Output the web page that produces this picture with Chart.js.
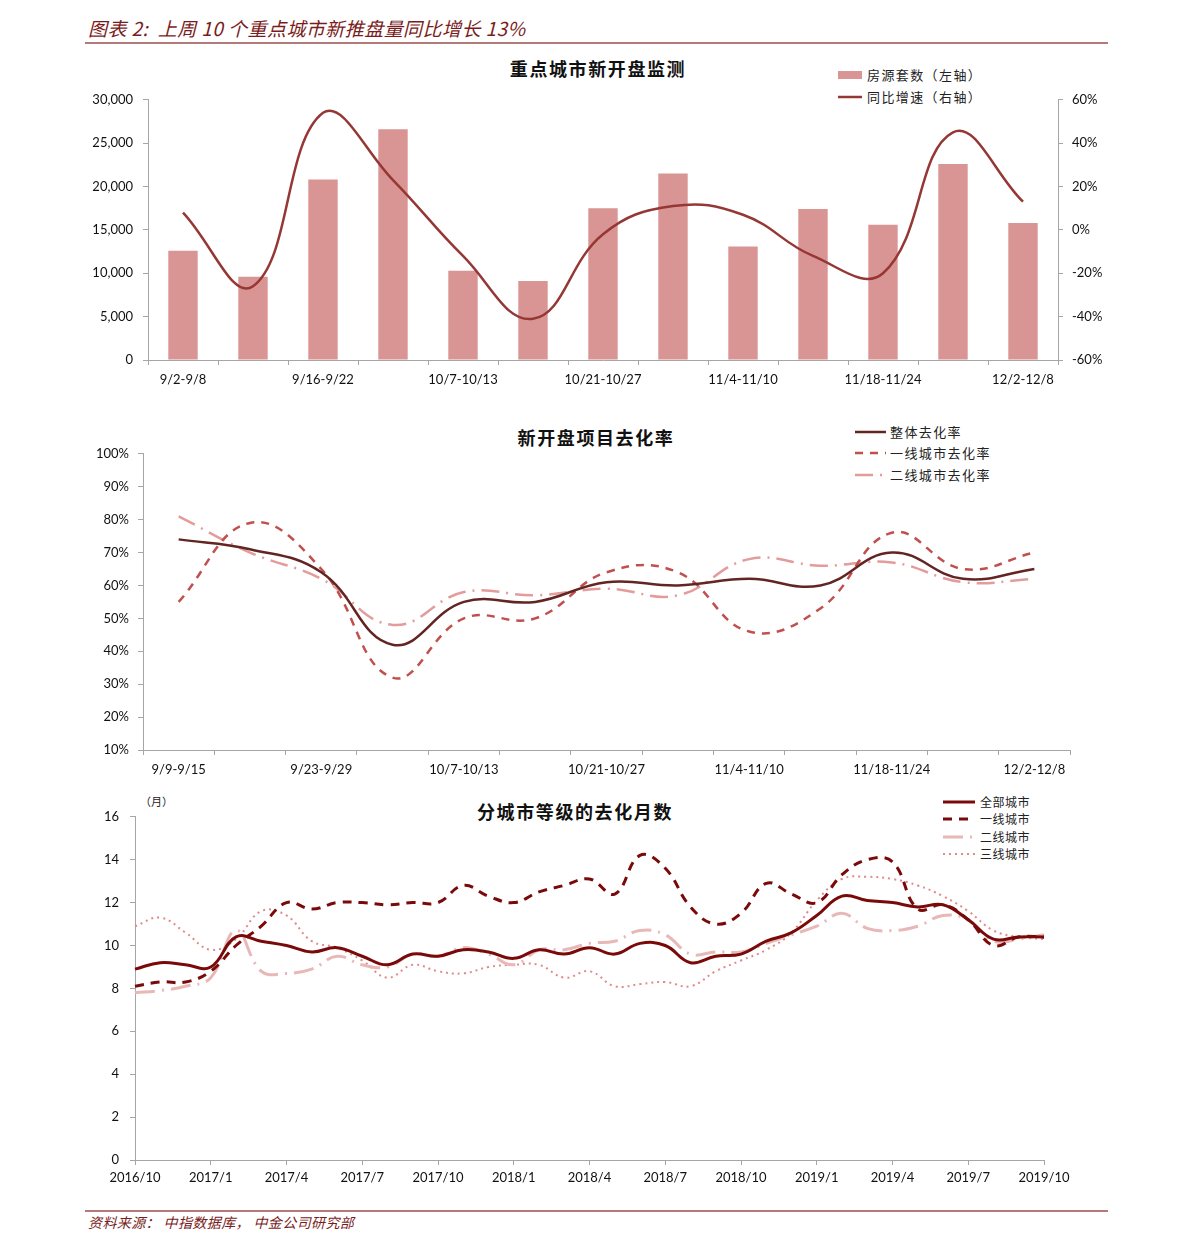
<!DOCTYPE html>
<html>
<head>
<meta charset="utf-8">
<script src="https://cdn.jsdelivr.net/npm/chart.js@4.4.1/dist/chart.umd.min.js"></script>
<style>
  html,body{margin:0;padding:0;background:#fff;}
  body{width:1191px;height:1251px;position:relative;overflow:hidden;font-family:"Noto Sans CJK SC","Noto Sans",sans-serif;}
  .abs{position:absolute;}
  .hdr{left:88px;top:14px;font-size:19px;letter-spacing:0.45px;font-style:italic;color:#7a1c1c;white-space:nowrap;}
  .rule{left:85px;width:1023px;height:2px;background:#b47a7a;}
  .ftr{left:88px;top:1212px;font-size:14px;letter-spacing:0.4px;font-style:italic;color:#7a1c1c;white-space:nowrap;}
  .title{font-size:18px;letter-spacing:1.6px;font-weight:bold;color:#111;white-space:nowrap;transform:translateX(-50%);}
  .leg{font-size:13px;letter-spacing:1.4px;color:#222;white-space:nowrap;display:flex;align-items:center;}
  .leg svg{margin-right:3px;}
  canvas{position:absolute;}
</style>
</head>
<body>
<div class="abs hdr">图表 2:&nbsp; 上周 10 个重点城市新推盘量同比增长 13%</div>
<div class="abs rule" style="top:42px"></div>

<div class="abs title" style="left:598px;top:55px">重点城市新开盘监测</div>
<div class="abs leg" style="left:838px;top:65px"><svg width="26" height="10"><rect x="0" y="1" width="24" height="8" fill="#d99594"/></svg>房源套数（左轴）</div>
<div class="abs leg" style="left:838px;top:87px"><svg width="26" height="10"><line x1="0" y1="5" x2="24" y2="5" stroke="#953735" stroke-width="2.5"/></svg>同比增速（右轴）</div>

<div class="abs title" style="left:596px;top:424px">新开盘项目去化率</div>
<div class="abs leg" style="left:855px;top:422px"><svg width="32" height="10"><line x1="0" y1="5" x2="31" y2="5" stroke="#632523" stroke-width="2.5"/></svg>整体去化率</div>
<div class="abs leg" style="left:855px;top:443px"><svg width="32" height="10"><line x1="0" y1="5" x2="31" y2="5" stroke="#c0504d" stroke-width="2.5" stroke-dasharray="8,7"/></svg>一线城市去化率</div>
<div class="abs leg" style="left:855px;top:465px"><svg width="32" height="10"><line x1="0" y1="5" x2="31" y2="5" stroke="#e39c9b" stroke-width="2.5" stroke-dasharray="18,7,2,7"/></svg>二线城市去化率</div>

<div class="abs" style="left:140px;top:793px;font-size:11px;color:#222;">（月）</div>
<div class="abs title" style="left:575px;top:798px">分城市等级的去化月数</div>
<div class="abs leg" style="left:943px;top:793px;font-size:12px;letter-spacing:0.5px"><svg width="34" height="10"><line x1="0" y1="5" x2="32" y2="5" stroke="#7a0a0a" stroke-width="3"/></svg>全部城市</div>
<div class="abs leg" style="left:943px;top:810px;font-size:12px;letter-spacing:0.5px"><svg width="34" height="10"><line x1="0" y1="5" x2="32" y2="5" stroke="#7a0a0a" stroke-width="3" stroke-dasharray="9,7"/></svg>一线城市</div>
<div class="abs leg" style="left:943px;top:828px;font-size:12px;letter-spacing:0.5px"><svg width="34" height="10"><line x1="0" y1="5" x2="32" y2="5" stroke="#e8b8b7" stroke-width="3" stroke-dasharray="20,7,2,7"/></svg>二线城市</div>
<div class="abs leg" style="left:943px;top:845px;font-size:12px;letter-spacing:0.5px"><svg width="34" height="10"><line x1="0" y1="5" x2="32" y2="5" stroke="#e08a8a" stroke-width="2" stroke-dasharray="2,4"/></svg>三线城市</div>

<div class="abs rule" style="top:1210px"></div>
<div class="abs ftr">资料来源：&nbsp;中指数据库，&nbsp;中金公司研究部</div>

<canvas id="c1" width="1070" height="313" style="left:60px;top:82px"></canvas>
<canvas id="c2" width="1070" height="343" style="left:60px;top:437px"></canvas>
<canvas id="c3" width="1070" height="397" style="left:60px;top:798px"></canvas>

<script>
// ---- Chart 1 data ----
const weeks1 = ['9/2-9/8','9/9-9/15','9/16-9/22','9/23-9/29','10/7-10/13','10/14-10/20','10/21-10/27','10/28-11/3','11/4-11/10','11/11-11/17','11/18-11/24','11/25-12/1','12/2-12/8'];
const supplyUnits = [12600, 9600, 20800, 26600, 10300, 9100, 17500, 21500, 13100, 17400, 15600, 22600, 15800];
const supplyYoY = [8, -26, 54, 23, -12, -41, -2, 11, 7, -12, -20, 45, 13];

// ---- Chart 2 data ----
const weeks2 = ['9/9-9/15','9/16-9/22','9/23-9/29','9/30-10/6','10/7-10/13','10/14-10/20','10/21-10/27','10/28-11/3','11/4-11/10','11/11-11/17','11/18-11/24','11/25-12/1','12/2-12/8'];
const sellOverall = [74, 71, 64, 42, 55, 55, 61, 60, 62, 60, 70, 62, 65];
const sellTier1 = [55, 79, 65, 32, 50, 50, 64, 64, 46, 53, 76, 65, 70];
const sellTier2 = [81, 70, 62, 48, 58, 57, 59, 57, 68, 66, 67, 61, 62];

// ---- Chart 3 data ----
const months3 = ['2016/10','2016/11','2016/12','2017/1','2017/2','2017/3','2017/4','2017/5','2017/6','2017/7','2017/8','2017/9','2017/10','2017/11','2017/12','2018/1','2018/2','2018/3','2018/4','2018/5','2018/6','2018/7','2018/8','2018/9','2018/10','2018/11','2018/12','2019/1','2019/2','2019/3','2019/4','2019/5','2019/6','2019/7','2019/8','2019/9','2019/10'];
const monthsAll = [8.9,9.2,9.1,9.0,10.4,10.2,10.0,9.7,9.9,9.5,9.1,9.6,9.5,9.8,9.7,9.4,9.8,9.6,9.9,9.6,10.1,10.0,9.2,9.5,9.6,10.2,10.6,11.4,12.3,12.1,12.0,11.8,11.9,11.2,10.3,10.4,10.4];
const monthsT1 = [8.1,8.3,8.3,8.8,10.0,10.9,12.0,11.7,12.0,12.0,11.9,12.0,12.0,12.8,12.3,12.0,12.5,12.8,13.1,12.4,14.2,13.6,11.8,11.0,11.5,12.9,12.4,12.0,13.3,14.0,13.9,11.7,11.9,11.2,10.0,10.4,10.4];
const monthsT2 = [7.8,7.9,8.1,8.5,10.7,8.8,8.7,8.9,9.5,9.1,9.0,9.6,9.5,9.9,9.6,9.1,9.8,9.8,10.1,10.2,10.7,10.5,9.6,9.7,9.7,10.1,10.5,10.9,11.5,10.8,10.7,10.9,11.4,11.2,10.2,10.3,10.5];
const monthsT3 = [10.9,11.3,10.6,9.8,10.3,11.6,11.4,10.2,9.9,9.3,8.5,9.1,8.8,8.7,9.0,9.1,9.1,8.5,8.8,8.1,8.2,8.3,8.1,8.8,9.3,9.8,10.6,12.1,13.1,13.2,13.1,12.8,12.3,11.6,10.7,10.4,10.3];

const AX = '#a6a6a6';
const tickFont = {family:'Lato, "Open Sans", sans-serif', size:13};
Chart.defaults.color = '#111';
Chart.defaults.animation = false;

function fixW(w){ return function(s){ s.width = w; }; }
function fixH(h){ return function(s){ s.height = h; }; }

// Chart 1
new Chart(document.getElementById('c1'), {
  data: {
    labels: weeks1,
    datasets: [
      {type:'line', data: supplyYoY, yAxisID:'y1', borderColor:'#953735', borderWidth:2.5, pointRadius:0, tension:0.42, order:0},
      {type:'bar', data: supplyUnits, yAxisID:'y', backgroundColor:'#d99594', barPercentage:0.42, categoryPercentage:1, order:1}
    ]
  },
  options: {
    responsive:false, animation:false,
    layout:{padding:{top:9,left:0,right:0,bottom:0}},
    plugins:{legend:{display:false}, tooltip:{enabled:false}},
    scales:{
      x:{offset:true, afterFit:fixH(35), grid:{drawOnChartArea:false, color:AX, tickLength:5, offset:true}, border:{color:AX},
         ticks:{autoSkip:false, maxRotation:0, font:tickFont, padding:7, callback:function(v,i){return i%2===0?this.getLabelForValue(v):'';}}},
      y:{position:'left', min:0, max:30000, afterFit:fixW(88), grid:{drawOnChartArea:false, color:AX, tickLength:5}, border:{color:AX},
         ticks:{stepSize:5000, font:tickFont, padding:10, callback:v=>v.toLocaleString('en-US')}},
      y1:{position:'right', min:-60, max:60, afterFit:fixW(72), grid:{drawOnChartArea:false, color:AX, tickLength:5}, border:{color:AX},
         ticks:{stepSize:20, font:tickFont, padding:9, callback:v=>v+'%'}}
    }
  }
});

// Chart 2
new Chart(document.getElementById('c2'), {
  type:'line',
  data: {
    labels: weeks2,
    datasets: [
      {data: sellOverall, borderColor:'#632523', borderWidth:2.5, pointRadius:0, tension:0.42},
      {data: sellTier1, borderColor:'#c0504d', borderWidth:2.5, borderDash:[8,7], pointRadius:0, tension:0.42},
      {data: sellTier2, borderColor:'#e39c9b', borderWidth:2.5, borderDash:[18,7,2,7], pointRadius:0, tension:0.42}
    ]
  },
  options: {
    responsive:false, animation:false,
    layout:{padding:{top:13,left:0,right:60,bottom:0}},
    plugins:{legend:{display:false}, tooltip:{enabled:false}},
    scales:{
      x:{offset:true, afterFit:fixH(30), grid:{drawOnChartArea:false, color:AX, tickLength:5, offset:true}, border:{color:AX},
         ticks:{autoSkip:false, maxRotation:0, font:tickFont, padding:7, callback:function(v,i){return i%2===0?this.getLabelForValue(v):'';}}},
      y:{min:10, max:100, afterFit:fixW(83), grid:{drawOnChartArea:false, color:AX, tickLength:5}, border:{color:AX},
         ticks:{stepSize:10, font:tickFont, padding:9, callback:v=>v+'%'}}
    }
  }
});

// Chart 3
new Chart(document.getElementById('c3'), {
  type:'line',
  data: {
    labels: months3,
    datasets: [
      {data: monthsAll, borderColor:'#7a0a0a', borderWidth:3, pointRadius:0, tension:0.42},
      {data: monthsT1, borderColor:'#7a0a0a', borderWidth:3, borderDash:[9,7], pointRadius:0, tension:0.42},
      {data: monthsT2, borderColor:'#e8b8b7', borderWidth:3, borderDash:[20,7,2,7], pointRadius:0, tension:0.42},
      {data: monthsT3, borderColor:'#e08a8a', borderWidth:2, borderDash:[2,4], pointRadius:0, tension:0.42}
    ]
  },
  options: {
    responsive:false, animation:false,
    layout:{padding:{top:11,left:0,right:86,bottom:0}},
    plugins:{legend:{display:false}, tooltip:{enabled:false}},
    scales:{
      x:{offset:false, afterFit:fixH(35), grid:{drawOnChartArea:false, tickLength:5, color:c=>(c.index%3===0?AX:'rgba(0,0,0,0)')}, border:{color:AX},
         ticks:{autoSkip:false, maxRotation:0, font:tickFont, padding:5, callback:function(v,i){return i%3===0?this.getLabelForValue(v):'';}}},
      y:{min:0, max:16, afterFit:fixW(75), grid:{drawOnChartArea:false, color:AX, tickLength:5}, border:{color:AX},
         ticks:{stepSize:2, font:tickFont, padding:11}}
    }
  }
});
</script>
</body>
</html>
